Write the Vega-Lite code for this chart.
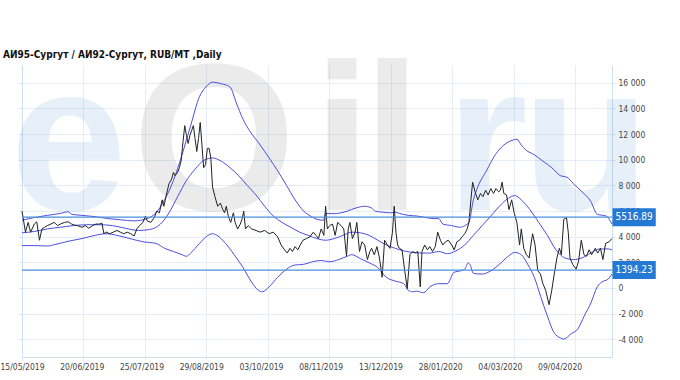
{
"$schema": "https://vega.github.io/schema/vega-lite/v6.json",
"width": 590, "height": 292,
"autosize": {"type": "none"},
"padding": {"left": 22, "top": 65, "right": 68, "bottom": 23},
"background": "white",
"title": {"text": "АИ95-Сургут / АИ92-Сургут,  RUB/MT ,Daily", "anchor": "start", "frame": "group", "dx": -19, "dy": 26, "offset": 8, "font": "DejaVu Sans Condensed", "fontSize": 10, "fontWeight": "bold", "color": "#111"},
"config": {"view": {"stroke": null}, "axis": {"labelFont": "DejaVu Sans Condensed", "labelFontSize": 8.5, "labelColor": "#444", "title": null}},
"datasets": {
"spread": [
{"t":0,"v":5990},{"t":1.4,"v":4350},{"t":2.5,"v":5110},{"t":3.5,"v":4350},{"t":5.0,"v":4980},{"t":6.0,"v":5160},{"t":7.1,"v":3720},{"t":8.1,"v":4600},{"t":9.2,"v":4730},{"t":10.3,"v":4860},{"t":11.7,"v":4980},{"t":13.1,"v":5110},{"t":14.5,"v":4860},{"t":15.6,"v":4980},{"t":17.3,"v":5110},{"t":18.8,"v":5160},{"t":20.2,"v":4980},{"t":21.2,"v":4910},{"t":22.6,"v":4860},{"t":24.4,"v":4730},{"t":25.8,"v":4860},{"t":27.2,"v":4650},{"t":28.7,"v":4860},{"t":30.1,"v":4980},{"t":31.5,"v":4980},{"t":32.5,"v":5060},{"t":33.3,"v":4230},{"t":34.3,"v":4350},{"t":35.7,"v":4230},{"t":37.1,"v":4350},{"t":38.6,"v":4480},{"t":40.0,"v":4350},{"t":41.4,"v":4230},{"t":42.8,"v":4350},{"t":44.2,"v":4230},{"t":45.6,"v":4050},{"t":46.7,"v":4600},{"t":47.8,"v":4860},{"t":49.2,"v":5110},{"t":50.2,"v":5610},{"t":50.9,"v":5230},{"t":52.4,"v":5110},{"t":53.8,"v":5480},{"t":54.8,"v":5990},{"t":55.9,"v":5860},{"t":57.0,"v":6870},{"t":57.7,"v":6370},{"t":58.7,"v":7250},{"t":59.8,"v":8130},{"t":60.9,"v":8500},{"t":61.6,"v":9010},{"t":62.3,"v":8760},{"t":63.3,"v":9010},{"t":64.0,"v":9380},{"t":64.7,"v":9890},{"t":65.5,"v":11400},{"t":66.2,"v":12660},{"t":66.9,"v":11900},{"t":67.6,"v":11270},{"t":68.3,"v":11900},{"t":69.0,"v":12280},{"t":69.7,"v":12660},{"t":70.4,"v":11650},{"t":71.1,"v":10640},{"t":71.8,"v":11650},{"t":72.5,"v":12910},{"t":73.2,"v":11150},{"t":73.9,"v":9380},{"t":74.7,"v":9640},{"t":75.4,"v":10890},{"t":76.1,"v":10890},{"t":76.8,"v":10140},{"t":77.5,"v":7880},{"t":78.5,"v":7120},{"t":79.6,"v":6370},{"t":80.7,"v":6620},{"t":81.7,"v":6110},{"t":82.4,"v":5860},{"t":83.1,"v":6370},{"t":83.9,"v":5610},{"t":84.9,"v":5110},{"t":86.0,"v":5860},{"t":86.7,"v":5110},{"t":87.7,"v":4600},{"t":88.8,"v":4980},{"t":89.5,"v":5360},{"t":90.2,"v":5990},{"t":90.9,"v":4600},{"t":92.0,"v":4860},{"t":93.4,"v":4600},{"t":95.2,"v":4480},{"t":96.9,"v":4350},{"t":98.7,"v":4480},{"t":100.5,"v":4230},{"t":102.2,"v":4350},{"t":104.0,"v":3980},{"t":105.4,"v":3350},{"t":106.8,"v":2970},{"t":107.9,"v":2720},{"t":109.0,"v":3090},{"t":110.0,"v":2840},{"t":111.1,"v":3220},{"t":112.2,"v":2970},{"t":113.2,"v":3350},{"t":114.3,"v":3720},{"t":115.7,"v":3850},{"t":117.1,"v":3980},{"t":118.5,"v":4350},{"t":119.6,"v":4100},{"t":120.6,"v":3850},{"t":121.7,"v":4600},{"t":122.8,"v":4100},{"t":123.5,"v":6370},{"t":124.2,"v":4600},{"t":125.2,"v":4860},{"t":126.3,"v":4980},{"t":127.4,"v":4100},{"t":128.4,"v":5110},{"t":129.8,"v":4860},{"t":130.9,"v":4600},{"t":132.0,"v":2470},{"t":132.7,"v":4600},{"t":133.4,"v":5110},{"t":134.4,"v":3850},{"t":135.5,"v":4350},{"t":136.2,"v":5110},{"t":137.3,"v":2840},{"t":138.3,"v":3600},{"t":139.4,"v":3350},{"t":140.5,"v":2210},{"t":141.5,"v":2840},{"t":142.2,"v":3090},{"t":143.3,"v":2590},{"t":144.4,"v":3220},{"t":145.4,"v":2340},{"t":146.5,"v":830},{"t":147.5,"v":3720},{"t":148.6,"v":3350},{"t":149.7,"v":3090},{"t":150.7,"v":4350},{"t":151.4,"v":6370},{"t":152.1,"v":4350},{"t":152.8,"v":3350},{"t":153.5,"v":3090},{"t":154.6,"v":2970},{"t":155.7,"v":1330},{"t":156.7,"v":-50},{"t":157.8,"v":2590},{"t":158.9,"v":2840},{"t":159.9,"v":2720},{"t":161.0,"v":2840},{"t":162.0,"v":80},{"t":162.7,"v":2840},{"t":163.8,"v":3350},{"t":164.9,"v":2970},{"t":165.9,"v":3220},{"t":167.0,"v":2840},{"t":168.1,"v":3220},{"t":169.1,"v":4350},{"t":170.2,"v":3720},{"t":171.2,"v":3350},{"t":172.3,"v":3600},{"t":173.4,"v":3720},{"t":174.8,"v":3350},{"t":175.8,"v":2970},{"t":176.9,"v":3600},{"t":178.0,"v":3720},{"t":179.0,"v":3980},{"t":180.1,"v":4230},{"t":181.1,"v":4600},{"t":181.8,"v":5110},{"t":182.6,"v":6870},{"t":183.3,"v":8250},{"t":184.3,"v":7500},{"t":185.4,"v":6870},{"t":186.5,"v":7370},{"t":187.5,"v":7120},{"t":188.6,"v":7620},{"t":189.6,"v":7250},{"t":190.7,"v":7750},{"t":191.8,"v":7370},{"t":192.8,"v":7750},{"t":193.9,"v":7500},{"t":194.6,"v":7620},{"t":195.3,"v":8250},{"t":196.0,"v":7370},{"t":197.1,"v":7250},{"t":198.1,"v":6110},{"t":199.2,"v":6870},{"t":200.2,"v":5860},{"t":201.3,"v":5110},{"t":202.4,"v":3350},{"t":203.1,"v":4600},{"t":204.1,"v":3090},{"t":205.2,"v":2590},{"t":206.3,"v":2340},{"t":207.0,"v":3350},{"t":207.7,"v":4230},{"t":208.7,"v":3350},{"t":209.8,"v":1330},{"t":210.9,"v":1080},{"t":211.9,"v":330},{"t":213.0,"v":-180},{"t":214.4,"v":-1310},{"t":215.5,"v":-180},{"t":216.5,"v":1080},{"t":217.6,"v":2340},{"t":218.6,"v":3090},{"t":219.4,"v":2590},{"t":220.4,"v":5360},{"t":221.5,"v":5480},{"t":222.2,"v":4350},{"t":222.9,"v":2340},{"t":224.0,"v":1840},{"t":225.4,"v":1460},{"t":226.4,"v":2090},{"t":227.5,"v":3720},{"t":228.6,"v":2590},{"t":229.6,"v":2470},{"t":230.7,"v":2970},{"t":231.7,"v":2590},{"t":233.2,"v":3090},{"t":234.2,"v":2720},{"t":235.3,"v":3090},{"t":236.3,"v":2210},{"t":237.4,"v":3470},{"t":238.8,"v":3600},{"t":240,"v":3850}
],
"bands": [
{"b":"up","t":0,"v":5280},{"b":"up","t":5.0,"v":5490},{"b":"up","t":10.3,"v":5660},{"b":"up","t":15.6,"v":5810},{"b":"up","t":18.8,"v":5940},{"b":"up","t":20.2,"v":5740},{"b":"up","t":24.4,"v":5660},{"b":"up","t":29.7,"v":5560},{"b":"up","t":35.0,"v":5410},{"b":"up","t":40.3,"v":5310},{"b":"up","t":45.6,"v":5230},{"b":"up","t":50.9,"v":5410},{"b":"up","t":54.5,"v":5860},{"b":"up","t":58.0,"v":6870},{"b":"up","t":61.6,"v":8380},{"b":"up","t":65.1,"v":10390},{"b":"up","t":68.6,"v":12660},{"b":"up","t":72.2,"v":14920},{"b":"up","t":74.8,"v":15680},{"b":"up","t":77.5,"v":16050},{"b":"up","t":81.0,"v":15930},{"b":"up","t":84.6,"v":15680},{"b":"up","t":87.2,"v":14420},{"b":"up","t":89.9,"v":13160},{"b":"up","t":92.5,"v":12280},{"b":"up","t":96.9,"v":11150},{"b":"up","t":100.5,"v":10140},{"b":"up","t":104.0,"v":9130},{"b":"up","t":107.6,"v":8000},{"b":"up","t":111.1,"v":6870},{"b":"up","t":114.6,"v":5990},{"b":"up","t":117.3,"v":5610},{"b":"up","t":119.9,"v":5360},{"b":"up","t":122.6,"v":5280},{"b":"up","t":123.5,"v":5810},{"b":"up","t":127.0,"v":5790},{"b":"up","t":132.3,"v":5990},{"b":"up","t":135.9,"v":6240},{"b":"up","t":139.4,"v":6370},{"b":"up","t":142.1,"v":6240},{"b":"up","t":143.8,"v":5990},{"b":"up","t":146.5,"v":5910},{"b":"up","t":150.0,"v":5860},{"b":"up","t":151.8,"v":5910},{"b":"up","t":153.5,"v":5810},{"b":"up","t":157.1,"v":5660},{"b":"up","t":160.6,"v":5610},{"b":"up","t":164.2,"v":5490},{"b":"up","t":167.7,"v":5410},{"b":"up","t":169.5,"v":5410},{"b":"up","t":171.2,"v":4980},{"b":"up","t":174.8,"v":4860},{"b":"up","t":178.3,"v":4730},{"b":"up","t":180.1,"v":4860},{"b":"up","t":181.8,"v":5110},{"b":"up","t":183.6,"v":6870},{"b":"up","t":185.4,"v":7880},{"b":"up","t":188.9,"v":9130},{"b":"up","t":192.5,"v":10390},{"b":"up","t":196.0,"v":11150},{"b":"up","t":199.5,"v":11520},{"b":"up","t":201.3,"v":11600},{"b":"up","t":203.1,"v":11150},{"b":"up","t":204.9,"v":10770},{"b":"up","t":208.4,"v":10390},{"b":"up","t":211.9,"v":9890},{"b":"up","t":215.5,"v":9380},{"b":"up","t":219.0,"v":8760},{"b":"up","t":221.7,"v":8630},{"b":"up","t":224.3,"v":8130},{"b":"up","t":227.8,"v":7500},{"b":"up","t":231.4,"v":6740},{"b":"up","t":234.0,"v":5740},{"b":"up","t":237.6,"v":5610},{"b":"up","t":240,"v":4980},
{"b":"mid","t":0,"v":4300},{"b":"mid","t":5.0,"v":4400},{"b":"mid","t":10.3,"v":4600},{"b":"mid","t":15.6,"v":4730},{"b":"mid","t":20.9,"v":4860},{"b":"mid","t":26.2,"v":4930},{"b":"mid","t":31.5,"v":4930},{"b":"mid","t":36.8,"v":4860},{"b":"mid","t":42.1,"v":4650},{"b":"mid","t":47.4,"v":4480},{"b":"mid","t":51.8,"v":4550},{"b":"mid","t":56.3,"v":4980},{"b":"mid","t":59.8,"v":5860},{"b":"mid","t":63.3,"v":7120},{"b":"mid","t":66.9,"v":8380},{"b":"mid","t":70.4,"v":9260},{"b":"mid","t":73.9,"v":9940},{"b":"mid","t":77.5,"v":10140},{"b":"mid","t":81.0,"v":9890},{"b":"mid","t":84.6,"v":9380},{"b":"mid","t":88.1,"v":8760},{"b":"mid","t":91.6,"v":8000},{"b":"mid","t":95.2,"v":7250},{"b":"mid","t":98.7,"v":6370},{"b":"mid","t":102.2,"v":5610},{"b":"mid","t":105.8,"v":5110},{"b":"mid","t":109.3,"v":4730},{"b":"mid","t":112.9,"v":4350},{"b":"mid","t":116.4,"v":4100},{"b":"mid","t":119.9,"v":3850},{"b":"mid","t":123.5,"v":3720},{"b":"mid","t":127.0,"v":3850},{"b":"mid","t":130.6,"v":4100},{"b":"mid","t":134.1,"v":4350},{"b":"mid","t":137.6,"v":4300},{"b":"mid","t":141.2,"v":4100},{"b":"mid","t":144.7,"v":3720},{"b":"mid","t":148.2,"v":3350},{"b":"mid","t":151.8,"v":3090},{"b":"mid","t":155.3,"v":2890},{"b":"mid","t":158.9,"v":2770},{"b":"mid","t":162.4,"v":2720},{"b":"mid","t":165.9,"v":2720},{"b":"mid","t":169.5,"v":2840},{"b":"mid","t":173.0,"v":2670},{"b":"mid","t":176.5,"v":2890},{"b":"mid","t":180.1,"v":3350},{"b":"mid","t":183.6,"v":4100},{"b":"mid","t":187.2,"v":4860},{"b":"mid","t":190.7,"v":5610},{"b":"mid","t":194.2,"v":6370},{"b":"mid","t":197.8,"v":6990},{"b":"mid","t":200.4,"v":7200},{"b":"mid","t":203.1,"v":6870},{"b":"mid","t":206.6,"v":6110},{"b":"mid","t":210.2,"v":5110},{"b":"mid","t":213.7,"v":4100},{"b":"mid","t":217.2,"v":2970},{"b":"mid","t":220.8,"v":2340},{"b":"mid","t":224.3,"v":2210},{"b":"mid","t":227.8,"v":2340},{"b":"mid","t":231.4,"v":2720},{"b":"mid","t":234.9,"v":3040},{"b":"mid","t":238.5,"v":3040},{"b":"mid","t":240,"v":2970},
{"b":"lo","t":0,"v":3300},{"b":"lo","t":5.0,"v":3300},{"b":"lo","t":10.3,"v":3270},{"b":"lo","t":13.8,"v":3400},{"b":"lo","t":19.1,"v":3650},{"b":"lo","t":24.4,"v":3850},{"b":"lo","t":29.7,"v":4100},{"b":"lo","t":34.1,"v":4230},{"b":"lo","t":38.6,"v":4100},{"b":"lo","t":43.9,"v":3850},{"b":"lo","t":49.2,"v":3600},{"b":"lo","t":54.5,"v":3470},{"b":"lo","t":58.0,"v":3090},{"b":"lo","t":61.6,"v":2840},{"b":"lo","t":65.1,"v":2590},{"b":"lo","t":66.9,"v":2470},{"b":"lo","t":68.6,"v":2720},{"b":"lo","t":72.2,"v":3470},{"b":"lo","t":74.8,"v":3980},{"b":"lo","t":77.5,"v":4230},{"b":"lo","t":79.3,"v":4100},{"b":"lo","t":82.8,"v":3470},{"b":"lo","t":86.3,"v":2590},{"b":"lo","t":89.9,"v":1590},{"b":"lo","t":93.4,"v":450},{"b":"lo","t":96.1,"v":-180},{"b":"lo","t":97.8,"v":-300},{"b":"lo","t":100.5,"v":80},{"b":"lo","t":104.0,"v":830},{"b":"lo","t":107.6,"v":1460},{"b":"lo","t":111.1,"v":1790},{"b":"lo","t":114.6,"v":1840},{"b":"lo","t":118.2,"v":2040},{"b":"lo","t":121.7,"v":2140},{"b":"lo","t":125.2,"v":2040},{"b":"lo","t":128.8,"v":2210},{"b":"lo","t":132.3,"v":2470},{"b":"lo","t":134.1,"v":2590},{"b":"lo","t":137.6,"v":2290},{"b":"lo","t":141.2,"v":1960},{"b":"lo","t":144.7,"v":1590},{"b":"lo","t":148.2,"v":830},{"b":"lo","t":151.8,"v":530},{"b":"lo","t":155.3,"v":330},{"b":"lo","t":157.1,"v":-180},{"b":"lo","t":158.9,"v":-300},{"b":"lo","t":160.6,"v":-250},{"b":"lo","t":163.3,"v":-380},{"b":"lo","t":165.9,"v":80},{"b":"lo","t":169.5,"v":330},{"b":"lo","t":173.0,"v":330},{"b":"lo","t":175.7,"v":1210},{"b":"lo","t":178.3,"v":1330},{"b":"lo","t":180.1,"v":1460},{"b":"lo","t":181.5,"v":1960},{"b":"lo","t":182.2,"v":1840},{"b":"lo","t":183.6,"v":1130},{"b":"lo","t":187.2,"v":1080},{"b":"lo","t":190.7,"v":1330},{"b":"lo","t":194.2,"v":1840},{"b":"lo","t":197.8,"v":2470},{"b":"lo","t":200.4,"v":2770},{"b":"lo","t":203.1,"v":2590},{"b":"lo","t":205.7,"v":1840},{"b":"lo","t":208.4,"v":830},{"b":"lo","t":211.0,"v":-680},{"b":"lo","t":213.7,"v":-2190},{"b":"lo","t":216.3,"v":-3450},{"b":"lo","t":219.0,"v":-3900},{"b":"lo","t":220.3,"v":-4000},{"b":"lo","t":223.4,"v":-3570},{"b":"lo","t":226.1,"v":-3200},{"b":"lo","t":228.7,"v":-2190},{"b":"lo","t":231.4,"v":-1180},{"b":"lo","t":234.0,"v":80},{"b":"lo","t":235.8,"v":450},{"b":"lo","t":238.5,"v":700},{"b":"lo","t":240,"v":1080}
],
"refs": [{"v": 5516.89, "lab": "5516.89"}, {"v": 1394.23, "lab": "1394.23"}]
},
"layer": [
{"data": {"values": [{}]}, "mark": {"type": "text", "font": "Liberation Sans", "fontWeight": "bold", "fontSize": 210, "align": "left", "baseline": "alphabetic", "color": "#1f6fc5", "opacity": 0.1},
 "encoding": {"x": {"datum": -4.9, "type": "quantitative", "scale": {"domain": [0, 240], "nice": false, "zero": false}, "axis": null}, "y": {"datum": 6070, "type": "quantitative", "scale": {"domain": [-5000, 17000], "nice": false, "zero": false}, "axis": null}, "text": {"value": "e"}}},
{"data": {"values": [{}]}, "mark": {"type": "text", "font": "Liberation Sans", "fontWeight": "bold", "fontSize": 210, "align": "left", "baseline": "alphabetic", "color": "#000000", "opacity": 0.075},
 "encoding": {"x": {"datum": 44.9, "type": "quantitative", "scale": {"domain": [0, 240], "nice": false, "zero": false}, "axis": null}, "y": {"datum": 6070, "type": "quantitative", "scale": {"domain": [-5000, 17000], "nice": false, "zero": false}, "axis": null}, "text": {"value": "O"}}},
{"data": {"values": [{}]}, "mark": {"type": "text", "font": "Liberation Sans", "fontWeight": "bold", "fontSize": 210, "align": "left", "baseline": "alphabetic", "color": "#000000", "opacity": 0.075},
 "encoding": {"x": {"datum": 118.4, "type": "quantitative", "scale": {"domain": [0, 240], "nice": false, "zero": false}, "axis": null}, "y": {"datum": 6070, "type": "quantitative", "scale": {"domain": [-5000, 17000], "nice": false, "zero": false}, "axis": null}, "text": {"value": "i"}}},
{"data": {"values": [{}]}, "mark": {"type": "text", "font": "Liberation Sans", "fontWeight": "bold", "fontSize": 210, "align": "left", "baseline": "alphabetic", "color": "#000000", "opacity": 0.075},
 "encoding": {"x": {"datum": 138.7, "type": "quantitative", "scale": {"domain": [0, 240], "nice": false, "zero": false}, "axis": null}, "y": {"datum": 6070, "type": "quantitative", "scale": {"domain": [-5000, 17000], "nice": false, "zero": false}, "axis": null}, "text": {"value": "l"}}},
{"data": {"values": [{}]}, "mark": {"type": "text", "font": "Liberation Sans", "fontWeight": "bold", "fontSize": 210, "align": "left", "baseline": "alphabetic", "color": "#1f6fc5", "opacity": 0.1},
 "encoding": {"x": {"datum": 172.5, "type": "quantitative", "scale": {"domain": [0, 240], "nice": false, "zero": false}, "axis": null}, "y": {"datum": 6070, "type": "quantitative", "scale": {"domain": [-5000, 17000], "nice": false, "zero": false}, "axis": null}, "text": {"value": "r"}}},
{"data": {"values": [{}]}, "mark": {"type": "text", "font": "Liberation Sans", "fontWeight": "bold", "fontSize": 210, "align": "left", "baseline": "alphabetic", "color": "#1f6fc5", "opacity": 0.1},
 "encoding": {"x": {"datum": 203.4, "type": "quantitative", "scale": {"domain": [0, 240], "nice": false, "zero": false}, "axis": null}, "y": {"datum": 6070, "type": "quantitative", "scale": {"domain": [-5000, 17000], "nice": false, "zero": false}, "axis": null}, "text": {"value": "u"}}},
{"data": {"name": "bands"}, "mark": {"type": "line", "color": "#4d4de3", "strokeWidth": 1, "interpolate": "monotone"},
 "encoding": {
  "x": {"field": "t", "type": "quantitative", "scale": {"domain": [0, 240], "nice": false, "zero": false},
        "axis": {"orient": "bottom", "values": [0, 24.3, 48.6, 72.9, 97.2, 121.5, 145.8, 170.1, 194.4, 218.7], "labelExpr": "['15/05/2019','20/06/2019','25/07/2019','29/08/2019','03/10/2019','08/11/2019','13/12/2019','28/01/2020','04/03/2020','09/04/2020'][round(datum.value/24.3)]", "grid": false, "ticks": false, "domain": false, "labelPadding": 5, "labelFlush": false, "labelBound": false, "labelOverlap": false}},
  "y": {"field": "v", "type": "quantitative", "scale": {"domain": [-5000, 17000], "nice": false, "zero": false},
        "axis": {"orient": "right", "values": [-4000, -2000, 0, 2000, 4000, 6000, 8000, 10000, 12000, 14000, 16000], "labelExpr": "(datum.value < 0 ? '-' : '') + replace(format(abs(datum.value), ','), ',', ' ')", "grid": false, "tickSize": 3, "tickColor": "#cfdff0", "domainColor": "#cfdff0", "labelPadding": 3, "labelOverlap": false, "labelFlush": false, "labelBound": false}},
  "detail": {"field": "b"}}},
{"data": {"name": "spread"}, "mark": {"type": "line", "color": "#222222", "strokeWidth": 1},
 "encoding": {
  "x": {"field": "t", "type": "quantitative", "scale": {"domain": [0, 240], "nice": false, "zero": false},
        "axis": {"orient": "bottom", "values": [0, 25, 50, 75, 100, 125, 150, 175, 200, 225], "grid": true, "gridColor": "#e5eef8", "labels": false, "tickSize": 3, "tickColor": "#dce8f5", "domainColor": "#cfdff0"}},
  "y": {"field": "v", "type": "quantitative", "scale": {"domain": [-5000, 17000], "nice": false, "zero": false},
        "axis": {"orient": "left", "values": [-4000, -2000, 0, 2000, 4000, 6000, 8000, 10000, 12000, 14000, 16000], "grid": true, "gridColor": "#e5eef8", "labels": false, "tickSize": 3, "tickColor": "#cfdff0", "domainColor": "#cfdff0"}}}},
{"data": {"name": "refs"}, "mark": {"type": "rule", "color": "#4a8fdc", "strokeWidth": 1.2},
 "encoding": {"y": {"field": "v", "type": "quantitative", "scale": {"domain": [-5000, 17000], "nice": false, "zero": false}, "axis": null}}},
{"data": {"name": "refs"}, "mark": {"type": "bar", "orient": "horizontal", "size": 18, "color": "#2479d4"},
 "encoding": {"x": {"datum": 240.2, "type": "quantitative", "scale": {"domain": [0, 240], "nice": false, "zero": false}, "axis": null}, "x2": {"datum": 257.8}, "y": {"field": "v", "type": "quantitative", "scale": {"domain": [-5000, 17000], "nice": false, "zero": false}, "axis": null}}},
{"data": {"name": "refs"}, "mark": {"type": "text", "color": "white", "font": "DejaVu Sans Condensed", "fontSize": 10, "align": "center", "baseline": "middle"},
 "encoding": {"x": {"datum": 249, "type": "quantitative", "scale": {"domain": [0, 240], "nice": false, "zero": false}, "axis": null}, "y": {"field": "v", "type": "quantitative", "scale": {"domain": [-5000, 17000], "nice": false, "zero": false}, "axis": null}, "text": {"field": "lab"}}}
],
"resolve": {"axis": {"x": "independent", "y": "independent"}}
}
